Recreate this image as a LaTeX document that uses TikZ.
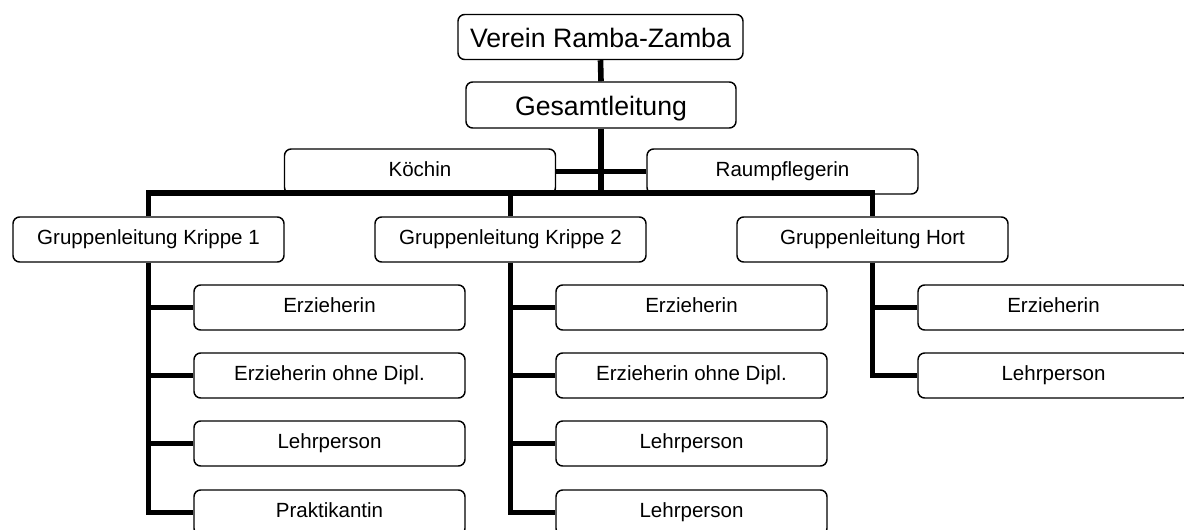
\documentclass[tikz,border=0pt]{standalone}
\usepackage{fontspec}
\setmainfont{Liberation Sans}
\begin{document}
\begin{tikzpicture}[x=0.75pt,y=-0.75pt,
  box/.style={draw=black, fill=white, line width=1.1pt, rounded corners=5pt,
    minimum width=203.25pt, minimum height=33.75pt, inner sep=0pt,
    text height=10pt, text depth=2.6pt,
    font=\fontsize{15.4}{18}\selectfont},
  bigbox/.style={box, text height=17pt, text depth=1.5pt, font=\fontsize{20}{24}\selectfont},
  conn/.style={line width=4.2pt, line join=miter, line cap=butt}]
\useasboundingbox (0,0) rectangle (1184,529);
% top
\node[bigbox, minimum width=213.75pt] (verein) at (600.5,37) {Verein Ramba-Zamba};
\node[bigbox, minimum width=202.5pt, minimum height=34.5pt] (gesamt) at (601,105) {Gesamtleitung};
\node[box] (koechin) at (420,171.5) {Köchin};
\node[box] (raum) at (782.5,171.5) {Raumpflegerin};
% group leaders
\node[box] (k1) at (148.5,239.5) {Gruppenleitung Krippe 1};
\node[box] (k2) at (510.5,239.5) {Gruppenleitung Krippe 2};
\node[box] (hort) at (872.5,239.5) {Gruppenleitung Hort};
% Krippe 1
\node[box] (k1a) at (329.5,307.5) {Erzieherin};
\node[box] (k1b) at (329.5,375.5) {Erzieherin ohne Dipl.};
\node[box] (k1c) at (329.5,443.5) {Lehrperson};
\node[box] (k1d) at (329.5,512.5) {Praktikantin};
% Krippe 2
\node[box] (k2a) at (691.5,307.5) {Erzieherin};
\node[box] (k2b) at (691.5,375.5) {Erzieherin ohne Dipl.};
\node[box] (k2c) at (691.5,443.5) {Lehrperson};
\node[box] (k2d) at (691.5,512.5) {Lehrperson};
% Hort
\node[box] (ha) at (1053.5,307.5) {Erzieherin};
\node[box] (hb) at (1053.5,375.5) {Lehrperson};
% connectors
\coordinate (hl) at (149,193);
\draw[conn] (verein.south) -- (gesamt.north);
\draw[conn] (gesamt.south) -- (gesamt.south |- hl);
\draw[conn] (koechin.east) -- (raum.west);
\draw[conn] (k1.north) -- (k1.north |- hl) -- (hort.north |- hl) -- (hort.north);
\draw[conn] (k2.north) -- (k2.north |- hl);
\draw[conn] (k1.south) -- (k1.south |- k1d.west) -- (k1d.west);
\draw[conn] (k1.south |- k1a.west) -- (k1a.west);
\draw[conn] (k1.south |- k1b.west) -- (k1b.west);
\draw[conn] (k1.south |- k1c.west) -- (k1c.west);
\draw[conn] (k2.south) -- (k2.south |- k2d.west) -- (k2d.west);
\draw[conn] (k2.south |- k2a.west) -- (k2a.west);
\draw[conn] (k2.south |- k2b.west) -- (k2b.west);
\draw[conn] (k2.south |- k2c.west) -- (k2c.west);
\draw[conn] (hort.south) -- (hort.south |- hb.west) -- (hb.west);
\draw[conn] (hort.south |- ha.west) -- (ha.west);
\end{tikzpicture}
\end{document}
